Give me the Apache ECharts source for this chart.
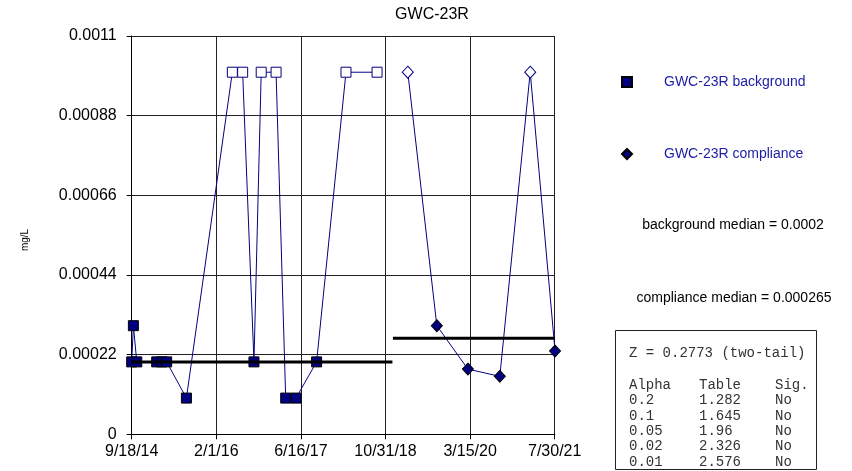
<!DOCTYPE html>
<html>
<head>
<meta charset="utf-8">
<script src="https://cdn.jsdelivr.net/npm/echarts@6/dist/echarts.min.js"></script>
<style>html,body{margin:0;padding:0;background:#fff}#c{width:852px;height:471px}</style>
</head>
<body>
<div id="c"></div>
<script>
// ---- data ----
var startDate = '2014-09-18';
var tickLabels = ['9/18/14', '2/1/16', '6/16/17', '10/31/18', '3/15/20', '7/30/21'];
var yTicks = [0, 0.00022, 0.00044, 0.00066, 0.00088, 0.0011];

var bgDates = ['2014-09-18','2014-09-28','2014-10-18','2015-02-13','2015-03-15','2015-04-13','2015-08-08',
               '2016-05-06','2016-07-06','2016-09-11','2016-10-24','2017-01-20','2017-03-18','2017-05-18',
               '2017-09-17','2018-03-10','2018-09-10'];
var bgValues = [0.0002,0.0003,0.0002,0.0002,0.0002,0.0002,0.0001,
                0.001,0.001,0.0002,0.001,0.001,0.0001,0.0001,
                0.0002,0.001,0.001];
var bgNonDetect = [0,0,0,0,0,0,0, 1,1,0,1,1,0,0, 0,1,1];

var cpDates = ['2019-03-11','2019-08-30','2020-03-01','2020-09-06','2021-03-05','2021-07-30'];
var cpValues = [0.001,0.0003,0.00018,0.00016,0.001,0.00023];
var cpNonDetect = [1,0,0,0,1,0];

var bgMedian = 0.0002;
var cpMedian = 0.000265;

var zText = 'Z = 0.2773 (two-tail)';
var alphas = ['0.2','0.1','0.05','0.02','0.01'];
var tableVals = ['1.282','1.645','1.96','2.326','2.576'];
var sigs = ['No','No','No','No','No'];

// ---- helpers ----
function dayOf(s) {
  var p = s.split('-').map(Number), q = startDate.split('-').map(Number);
  return Math.round((Date.UTC(p[0], p[1]-1, p[2]) - Date.UTC(q[0], q[1]-1, q[2])) / 86400000);
}
var NAVY = '#000080';
function pts(dates, vals, nd) {
  return dates.map(function (d, i) {
    return {
      value: [dayOf(d), vals[i]],
      itemStyle: nd[i] ? {color: '#ffffff', borderColor: NAVY, borderWidth: 1}
                       : {color: NAVY, borderColor: '#000000', borderWidth: 1}
    };
  });
}
var bgPts = pts(bgDates, bgValues, bgNonDetect);
var cpPts = pts(cpDates, cpValues, cpNonDetect);
var firstDay = dayOf(bgDates[0]);
var splitDay = (dayOf(bgDates[bgDates.length-1]) + dayOf(cpDates[0])) / 2;
var lastDay = dayOf(cpDates[cpDates.length-1]);
var tickStep = 501;
var xMax = tickStep * (tickLabels.length - 1);

var chart = echarts.init(document.getElementById('c'));
chart.setOption({
  animation: false,
  title: {
    text: 'GWC-23R', left: 427, top: 2, textAlign: 'center',
    textStyle: {fontFamily: 'Liberation Sans, Arial', fontSize: 16, fontWeight: 'normal', color: '#000'}
  },
  grid: {left: 131.7, right: 297.3, top: 36, bottom: 36.7, containLabel: false},
  xAxis: {
    type: 'value', min: 0, max: xMax, interval: tickStep,
    axisLine: {show: true, lineStyle: {color: '#000', width: 1}},
    axisTick: {show: true, length: 5, lineStyle: {color: '#000'}},
    splitLine: {show: true, lineStyle: {color: '#222', width: 1}},
    axisLabel: {
      margin: 9, fontSize: 16, fontFamily: 'Liberation Sans, Arial', color: '#000',
      formatter: function (v) { return tickLabels[Math.round(v / tickStep)]; }
    }
  },
  yAxis: {
    type: 'value', min: yTicks[0], max: yTicks[yTicks.length-1], interval: yTicks[1] - yTicks[0],
    axisLine: {show: true, lineStyle: {color: '#000', width: 1}},
    axisTick: {show: true, length: 5, lineStyle: {color: '#000'}},
    splitLine: {show: true, lineStyle: {color: '#222', width: 1}},
    axisLabel: {
      margin: 15, fontSize: 16, fontFamily: 'Liberation Sans, Arial', color: '#000',
      formatter: function (v) { return String(parseFloat(v.toFixed(6))); }
    }
  },
  legend: {
    orient: 'vertical', left: 616, top: 70, itemGap: 58, itemWidth: 10, itemHeight: 10,
    selectedMode: false,
    data: [{name: 'GWC-23R background', icon: 'rect'}, {name: 'GWC-23R compliance', icon: 'diamond'}],
    textStyle: {fontFamily: 'Liberation Sans, Arial', fontSize: 14, color: '#1c1ca6', padding: [0, 0, 0, 27]}
  },
  series: [
    {
      name: 'GWC-23R background', type: 'line', data: bgPts, symbol: 'rect', symbolSize: 10,
      lineStyle: {color: NAVY, width: 1}, itemStyle: {color: NAVY, borderColor: '#000', borderWidth: 1},
      z: 3, clip: false
    },
    {
      name: 'GWC-23R compliance', type: 'line', data: cpPts, symbol: 'diamond', symbolSize: [11, 12],
      lineStyle: {color: NAVY, width: 1}, itemStyle: {color: NAVY, borderColor: '#000', borderWidth: 1},
      z: 3, clip: false
    },
    {
      name: 'bgMedianLine', type: 'line', data: [[firstDay, bgMedian], [splitDay, bgMedian]],
      symbol: 'none', lineStyle: {color: '#000', width: 3}, z: 4, silent: true
    },
    {
      name: 'cpMedianLine', type: 'line', data: [[splitDay + 3, cpMedian], [lastDay, cpMedian]],
      symbol: 'none', lineStyle: {color: '#000', width: 3}, z: 4, silent: true
    }
  ],
  graphic: [
    {type: 'text', x: 25, y: 240, rotation: Math.PI / 2,
     style: {text: 'mg/L', fontSize: 10, fontFamily: 'Liberation Sans, Arial', fill: '#000', align: 'center', verticalAlign: 'middle'}},
    {type: 'text', x: 733, y: 225,
     style: {text: 'background median = ' + bgMedian, fontSize: 14, fontFamily: 'Liberation Sans, Arial', fill: '#000', align: 'center', verticalAlign: 'middle'}},
    {type: 'text', x: 734, y: 298,
     style: {text: 'compliance median = ' + cpMedian, fontSize: 14, fontFamily: 'Liberation Sans, Arial', fill: '#000', align: 'center', verticalAlign: 'middle'}},
    {type: 'rect', shape: {x: 615.5, y: 330.5, width: 201, height: 139},
     style: {fill: '#fff', stroke: '#222', lineWidth: 1}},
    {type: 'text', x: 629, y: 353.5,
     style: {text: zText, fontSize: 14, fontFamily: 'Liberation Mono, Courier New, monospace', fill: '#333', verticalAlign: 'middle'}},
    {type: 'text', x: 629, y: 377.5,
     style: {text: ['Alpha'].concat(alphas).join('\n'), lineHeight: 15.35, fontSize: 14, fontFamily: 'Liberation Mono, Courier New, monospace', fill: '#333'}},
    {type: 'text', x: 699, y: 377.5,
     style: {text: ['Table'].concat(tableVals).join('\n'), lineHeight: 15.35, fontSize: 14, fontFamily: 'Liberation Mono, Courier New, monospace', fill: '#333'}},
    {type: 'text', x: 775, y: 377.5,
     style: {text: ['Sig.'].concat(sigs).join('\n'), lineHeight: 15.35, fontSize: 14, fontFamily: 'Liberation Mono, Courier New, monospace', fill: '#333'}}
  ]
});
</script>
</body>
</html>
